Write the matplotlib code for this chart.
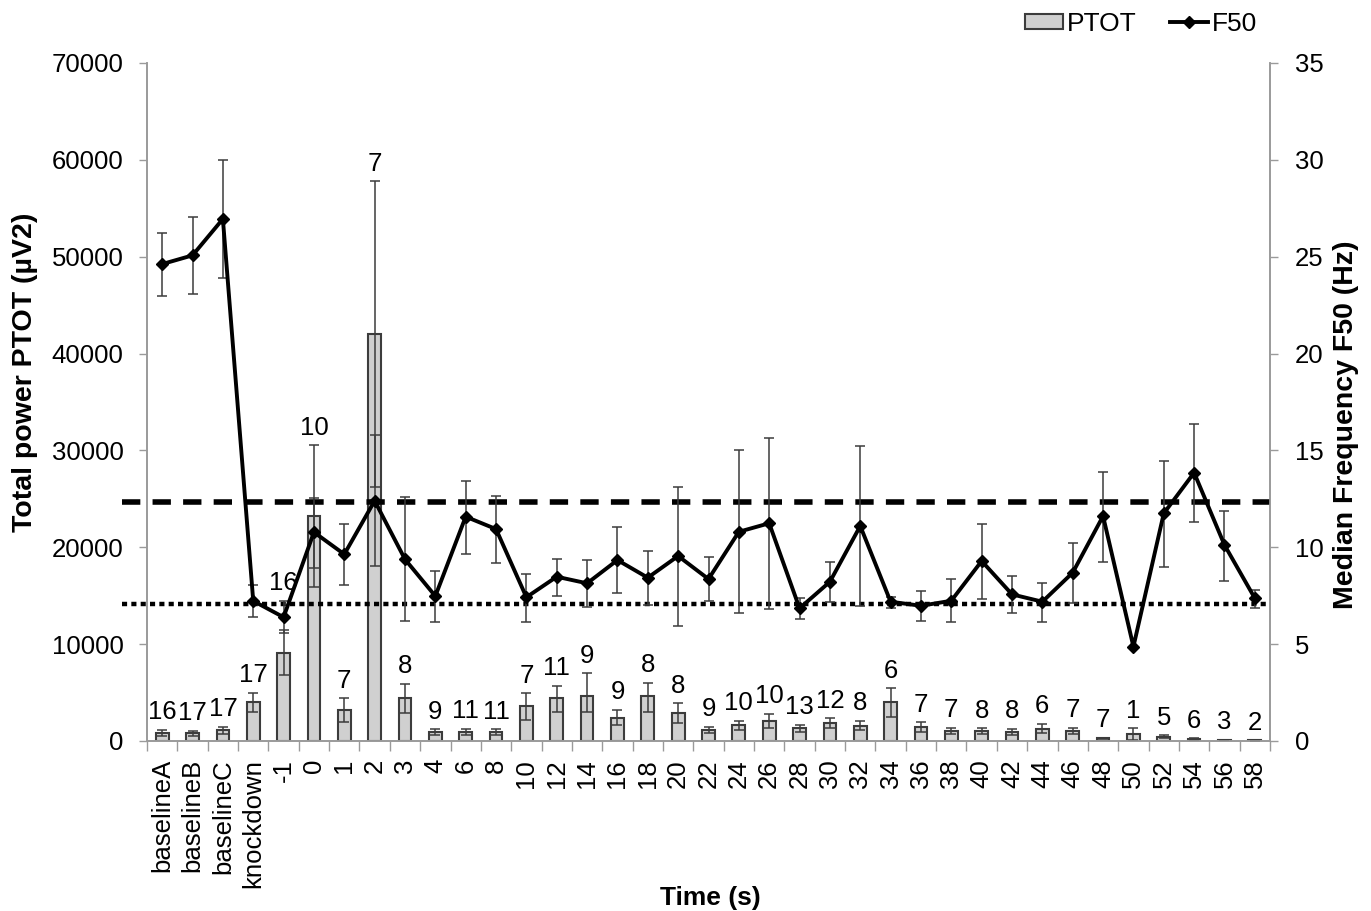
import matplotlib
matplotlib.use("Agg")
import matplotlib.pyplot as plt
import numpy as np

plt.rcParams['font.family'] = ['Liberation Sans', 'DejaVu Sans']

# categories (time points)
cats = ['baselineA', 'baselineB', 'baselineC', 'knockdown', '-1', '0', '1', '2', '3', '4',
        '6', '8', '10', '12', '14', '16', '18', '20', '22', '24', '26', '28', '30', '32',
        '34', '36', '38', '40', '42', '44', '46', '48', '50', '52', '54', '56', '58']

# total power PTOT (uV2) with error bars
ptot = [850, 800, 1100, 4000, 9050, 23200, 3230, 42000, 4470, 900,
        960, 900, 3610, 4410, 4680, 2410, 4680, 2925, 1135, 1620,
        2100, 1310, 1890, 1580, 4060, 1480, 1065, 1030, 960, 1240,
        1065, 280, 690, 450, 200, 100, 60]
ptot_up = [300, 250, 350, 1000, 2400, 1900, 1180, 15800, 1420, 330,
           300, 300, 1310, 1300, 2300, 800, 1340, 960, 350, 480,
           690, 340, 450, 520, 1400, 450, 310, 280, 300, 520,
           310, 80, 620, 140, 60, 30, 20]
ptot_dn = [300, 250, 350, 1000, 2250, 5350, 1240, 15800, 1610, 300,
           300, 300, 1440, 1380, 1650, 800, 1700, 1100, 350, 500,
           790, 350, 580, 450, 1600, 600, 370, 300, 300, 450,
           350, 80, 620, 140, 60, 30, 20]

# median frequency F50 (Hz) with error bars
f50 = [24.62, 25.07, 26.95, 7.23, 6.39, 10.78, 9.64, 12.40, 9.38, 7.48,
       11.58, 10.94, 7.42, 8.48, 8.14, 9.34, 8.43, 9.55, 8.36, 10.80,
       11.24, 6.85, 8.22, 11.10, 7.19, 6.98, 7.24, 9.29, 7.57, 7.19,
       8.69, 11.61, 4.87, 11.75, 13.85, 10.12, 7.37]
f50_up = [1.62, 1.98, 3.03, 0.82, 0.84, 4.49, 1.56, 3.40, 3.23, 1.31,
          1.82, 1.72, 1.20, 0.91, 1.20, 1.69, 1.38, 3.55, 1.12, 4.22,
          4.39, 0.52, 1.04, 4.14, 0.26, 0.78, 1.11, 1.91, 0.96, 0.97,
          1.51, 2.29, 0.0, 2.70, 2.50, 1.77, 0.43]
f50_dn = [1.63, 2.00, 3.05, 0.81, 0.80, 2.83, 1.59, 3.37, 3.19, 1.32,
          1.91, 1.77, 1.26, 0.97, 1.21, 1.72, 1.41, 3.61, 1.15, 4.21,
          4.43, 0.55, 1.06, 4.11, 0.34, 0.77, 1.10, 1.96, 0.95, 1.03,
          1.58, 2.35, 0.0, 2.75, 2.53, 1.85, 0.52]

# number of subjects per time point
n_subj = [16, 17, 17, 17, 16, 10, 7, 7, 8, 9, 11, 11, 7, 11, 9, 9, 8, 8, 9, 10,
          10, 13, 12, 8, 6, 7, 7, 8, 8, 6, 7, 7, 1, 5, 6, 3, 2]

f50_high = 12.34   # dashed reference
f50_low = 7.06     # dotted reference

x = np.arange(len(cats))
grey = '#9a9a9a'
dark = '#3c3c3c'

fig = plt.figure(figsize=(13.71, 9.11), dpi=100)
ax = fig.add_axes([147/1371, 1-741/911, 1123/1371, 678/911])
ax2 = ax.twinx()

ax.bar(x, ptot, width=0.42, color='#d0d0d0', edgecolor=dark, linewidth=1.5,
       label='PTOT', zorder=2)
ax.errorbar(x, ptot, yerr=[ptot_dn, ptot_up], fmt='none', ecolor=dark,
            elinewidth=1.1, capsize=3.6, capthick=1.1, zorder=3)

ax2.errorbar(x, f50, yerr=[f50_dn, f50_up], fmt='none', ecolor=dark,
             elinewidth=1.1, capsize=3.6, capthick=1.1, zorder=3)
ax2.plot(x, f50, color='black', lw=2.8, marker='D', ms=6.5, label='F50', zorder=4)

# reference lines, slightly sticking out on the left like the original
tr = ax2.get_yaxis_transform()
ax2.plot([-0.022, 1], [f50_high, f50_high], transform=tr, clip_on=False,
         color='black', lw=4, ls=(0, (3.3, 2.2)), solid_capstyle='butt', zorder=1)
ax2.plot([-0.022, 1], [f50_low, f50_low], transform=tr, clip_on=False,
         color='black', lw=3.2, ls=(0, (1.15, 0.95)), dash_capstyle='butt', zorder=1)

ax.set_xlim(-0.5, len(cats) - 0.5)
ax.set_ylim(0, 70000)
ax2.set_ylim(0, 35)
scale = 70000 / 35

# n labels above the error bars
for i in range(len(cats)):
    top = ptot[i] + ptot_up[i]
    if (f50[i] - f50_dn[i]) * scale < top:
        top = max(top, (f50[i] + f50_up[i]) * scale)
    ax.annotate(str(n_subj[i]), (x[i], top), xytext=(0, 4), textcoords='offset points',
                ha='center', va='bottom', fontsize=18.5, zorder=5)

ax.set_yticks(np.arange(0, 70001, 10000))
ax2.set_yticks(np.arange(0, 36, 5))
ax.set_xticks(x)
ax.set_xticklabels(cats, rotation=90)
ax.set_xticks(np.arange(-0.5, len(cats), 1), minor=True)

ax.tick_params(axis='x', which='major', length=0, pad=13, labelsize=18.5)
ax.tick_params(axis='x', which='minor', length=7, color=grey, width=1)
ax.tick_params(axis='y', length=6, color=grey, width=1, pad=11, labelsize=18.5)
ax2.tick_params(axis='y', length=6, color=grey, width=1, pad=12, labelsize=18.5)

for a in (ax, ax2):
    a.spines['top'].set_visible(False)
    for s in ('left', 'right', 'bottom'):
        a.spines[s].set_color(grey)
        a.spines[s].set_linewidth(1.2)

fig.text(710/1371, 1-898/911, 'Time (s)', ha='center', va='center',
         fontsize=19, fontweight='bold')
fig.text(25/1371, 1-372/911, 'Total power PTOT (\u00b5V2)', ha='center', va='center',
         rotation=90, fontsize=20.5, fontweight='bold')
fig.text(1346/1371, 1-425/911, 'Median Frequency F50 (Hz)', ha='center', va='center',
         rotation=90, fontsize=20.5, fontweight='bold')

h1, l1 = ax.get_legend_handles_labels()
h2, l2 = ax2.get_legend_handles_labels()
fig.legend(h1 + h2, l1 + l2, loc='upper right', bbox_to_anchor=(1281/1371, 1.013),
           ncol=2, frameon=False, fontsize=19, handlelength=1.45, handleheight=0.5,
           handletextpad=0.15, columnspacing=1.25)

fig.savefig('out.png', dpi=100)
